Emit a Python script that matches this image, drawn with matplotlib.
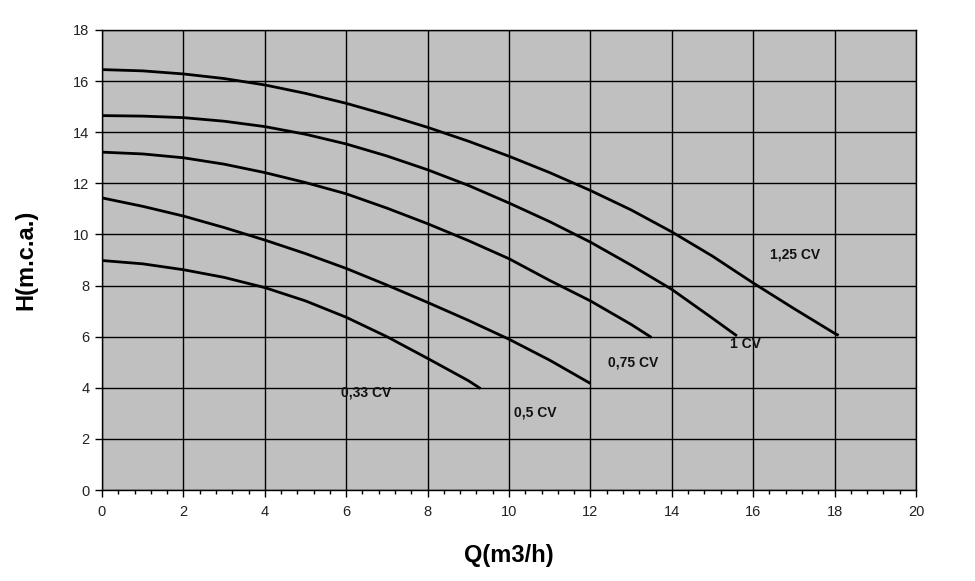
import matplotlib
matplotlib.use("Agg")
import matplotlib.pyplot as plt
from matplotlib.ticker import MultipleLocator

# Data
q_125 = [0, 1, 2, 3, 4, 5, 6, 7, 8, 9, 10, 11, 12, 13, 14, 15, 16, 17, 18, 18.1]
h_125 = [16.45, 16.4, 16.28, 16.1, 15.85, 15.52, 15.13, 14.68, 14.19, 13.65, 13.06,
         12.42, 11.72, 10.96, 10.1, 9.15, 8.1, 7.1, 6.13, 6.05]

q_100 = [0, 1, 2, 3, 4, 5, 6, 7, 8, 9, 10, 11, 12, 13, 14, 15, 15.6]
h_100 = [14.65, 14.63, 14.57, 14.43, 14.22, 13.92, 13.54, 13.07, 12.53, 11.92, 11.23,
         10.5, 9.7, 8.8, 7.85, 6.72, 6.03]

q_075 = [0, 1, 2, 3, 4, 5, 6, 7, 8, 9, 10, 11, 12, 13, 13.5]
h_075 = [13.22, 13.15, 13.0, 12.75, 12.42, 12.03, 11.59, 11.03, 10.42, 9.76, 9.05,
         8.2, 7.4, 6.48, 5.97]

q_050 = [0, 1, 2, 3, 4, 5, 6, 7, 8, 9, 10, 11, 12]
h_050 = [11.43, 11.1, 10.72, 10.27, 9.78, 9.25, 8.67, 8.02, 7.34, 6.64, 5.9, 5.08, 4.17]

q_033 = [0, 1, 2, 3, 4, 5, 6, 7, 8, 9, 9.3]
h_033 = [8.98, 8.85, 8.62, 8.32, 7.92, 7.4, 6.76, 6.0, 5.15, 4.28, 3.97]

labels = ["1,25 CV", "1 CV", "0,75 CV", "0,5 CV", "0,33 CV"]
label_x = [17.03, 15.82, 13.05, 10.64, 6.49]
label_y = [9.2, 5.7, 5.0, 3.05, 3.8]

x_ticks = list(range(0, 21, 2))
y_ticks = list(range(0, 19, 2))

plt.rcParams['font.family'] = ['Liberation Sans', 'DejaVu Sans']

fig = plt.figure(figsize=(9.75, 5.81), dpi=100)
ax = fig.add_axes([0.1046, 0.1566, 0.8349, 0.7918])
ax.set_facecolor('#C0C0C0')

for q, h in [(q_125, h_125), (q_100, h_100), (q_075, h_075), (q_050, h_050), (q_033, h_033)]:
    ax.plot(q, h, color='black', linewidth=2.0, solid_capstyle='butt', zorder=3)

for t, x, y in zip(labels, label_x, label_y):
    ax.text(x, y, t, fontsize=10, fontweight='bold', color='#111111',
            ha='center', va='center', zorder=4)

ax.set_xlim(0, 20)
ax.set_ylim(0, 18)
ax.set_xticks(x_ticks)
ax.set_yticks(y_ticks)
ax.xaxis.set_minor_locator(MultipleLocator(0.4))
ax.grid(True, which='major', color='black', linewidth=1.0, zorder=1)
ax.set_axisbelow(True)

ax.tick_params(axis='both', which='major', direction='out', length=5, width=1,
               labelsize=10.5, labelcolor='#222222', color='black')
ax.tick_params(axis='x', which='major', pad=6)
ax.tick_params(axis='y', which='major', pad=4)
ax.tick_params(axis='x', which='minor', direction='out', length=3, width=1, color='black')
ax.tick_params(axis='y', which='minor', length=0)

for s in ax.spines.values():
    s.set_color('black')
    s.set_linewidth(1.0)

ax.set_xlabel('Q(m3/h)', fontsize=17, fontweight='bold', labelpad=18)
ax.set_ylabel('H(m.c.a.)', fontsize=17, fontweight='bold', labelpad=26)

fig.savefig('out.png', dpi=100, facecolor='white')
